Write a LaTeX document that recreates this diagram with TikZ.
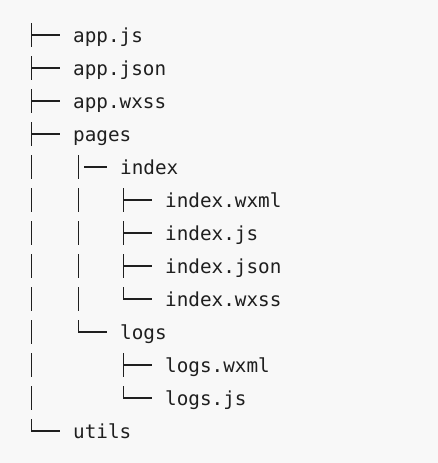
\documentclass[tikz,border=0pt]{standalone}
\usepackage{fontspec}
\setmonofont{DejaVu Sans Mono}
\definecolor{bgc}{HTML}{F8F8F8}
\definecolor{ink}{HTML}{1F1F1F}
\newcommand\treeTee[2]{\draw[treeline] (#1,{35+33*#2-12}) -- (#1,{35+33*#2+12}) (#1,{35+33*#2}) -- ({#1+28.5},{35+33*#2});}
\newcommand\treeEll[2]{\draw[treeline] (#1,{35+33*#2-12}) -- (#1,{35+33*#2}) -- ({#1+28.5},{35+33*#2});}
\newcommand\treePipe[2]{\draw[treeline] (#1,{35+33*#2-12}) -- (#1,{35+33*#2+12});}
\begin{document}
\begin{tikzpicture}[x=1pt,y=-1pt,
  file/.style={anchor=base west, inner sep=0pt, font=\ttfamily\fontsize{19.3}{22}\selectfont, text=ink},
  treeline/.style={draw=ink, line width=1.1pt}]
\fill[bgc] (0,0) rectangle (438,463);
\useasboundingbox (0,0) rectangle (438,463);
% level x positions: L0 bar 31.5 text 73; L1 bar 78.3 text 120; L2 bar 123.8 text 165
% row 0-3
\treeTee{31.5}{0}
\node[file] (appjs) at (73,42) {app.js};
\treeTee{31.5}{1}
\node[file] (appjson) at (73,75) {app.json};
\treeTee{31.5}{2}
\node[file] (appwxss) at (73,108) {app.wxss};
\treeTee{31.5}{3}
\node[file] (pages) at (73,141) {pages};
% row 4
\treePipe{31.5}{4}
\treePipe{78.3}{4}
\draw[treeline] (84,167) -- (107,167);
\node[file] (index) at (120,174) {index};
% rows 5-8
\foreach \r in {5,6,7,8}{\treePipe{31.5}{\r}}
\foreach \r in {5,6,7,8}{\treePipe{78.3}{\r}}
\treeTee{123.8}{5}
\node[file] (idxwxml) at (165,207) {index.wxml};
\treeTee{123.8}{6}
\node[file] (idxjs) at (165,240) {index.js};
\treeTee{123.8}{7}
\node[file] (idxjson) at (165,273) {index.json};
\treeEll{123.8}{8}
\node[file] (idxwxss) at (165,306) {index.wxss};
% row 9
\treePipe{31.5}{9}
\treeEll{78.3}{9}
\node[file] (logs) at (120,339) {logs};
% rows 10-11
\treePipe{31.5}{10}
\treePipe{31.5}{11}
\treeTee{123.8}{10}
\node[file] (logswxml) at (165,372) {logs.wxml};
\treeEll{123.8}{11}
\node[file] (logsjs) at (165,405) {logs.js};
% row 12
\treeEll{31.5}{12}
\node[file] (utils) at (73,438) {utils};
\end{tikzpicture}
\end{document}
